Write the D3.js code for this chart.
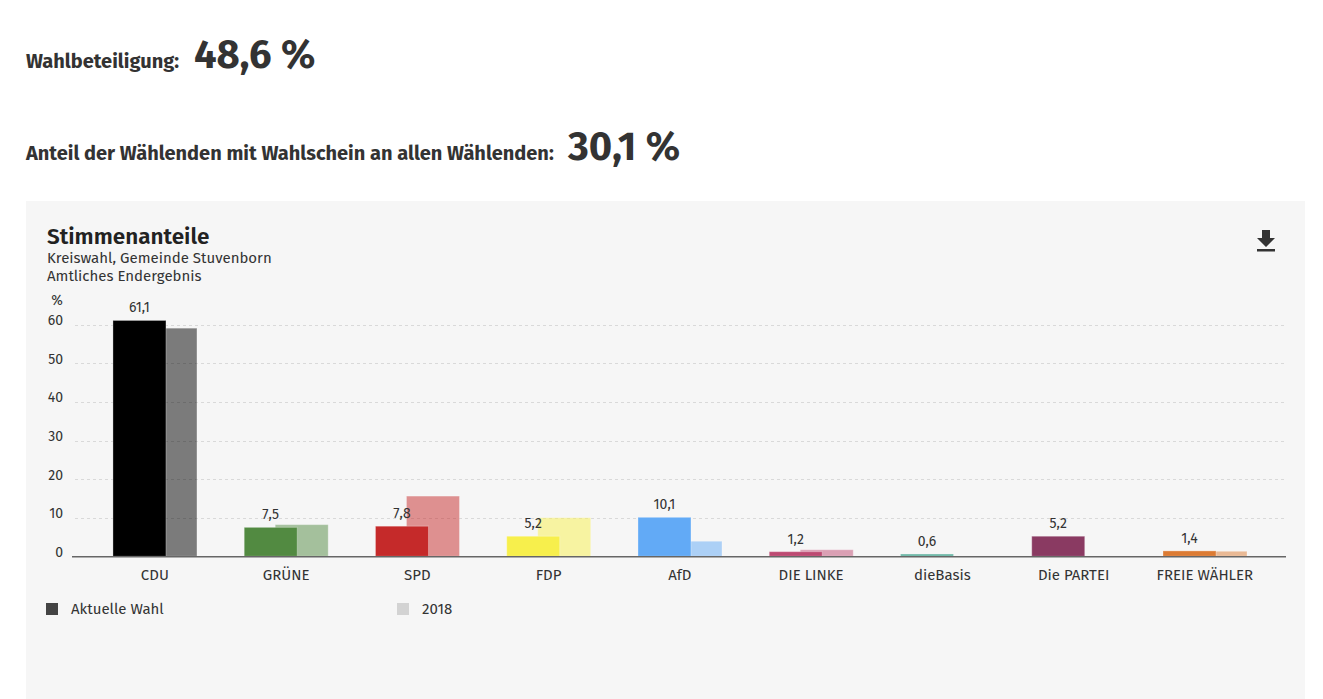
<!DOCTYPE html>
<html>
<head>
<meta charset="utf-8">
<script src="https://cdn.jsdelivr.net/npm/d3@7"></script>
<style>
  html, body { margin: 0; padding: 0; background: #fff; }
  svg { display: block; }
  text { font-family: "Fira Sans", Lato, "Open Sans", sans-serif; }
</style>
</head>
<body>
<svg id="chart" width="1323" height="699"></svg>
<script>
// ---- data ----
const parties = ["CDU", "GRÜNE", "SPD", "FDP", "AfD", "DIE LINKE", "dieBasis", "Die PARTEI", "FREIE WÄHLER"];
const current = [61.1, 7.5, 7.8, 5.2, 10.1, 1.2, 0.6, 5.2, 1.4];
const previous = [59.1, 8.2, 15.6, 10.0, 3.9, 1.7, null, null, 1.3];
const partyColors = ["#000000", "#528a41", "#c52a2a", "#f7ef4c", "#62aaf6", "#bd4a72", "#6cb7a6", "#8a3a62", "#dc7b33"];
const yTicks = [0, 10, 20, 30, 40, 50, 60];
const legendLabels = ["Aktuelle Wahl", "2018"];
const turnout = "48,6 %";
const absenteeShare = "30,1 %";

const fmt = v => d3.format(".1f")(v).replace(".", ",");

const svg = d3.select("#chart");

// ---- header ----
const hdr = svg.append("g");
hdr.append("text").attr("x", 26).attr("y", 68)
  .attr("font-size", 20).attr("font-weight", 700).attr("fill", "#333")
  .text("Wahlbeteiligung:");
hdr.append("text").attr("x", 194).attr("y", 68)
  .attr("font-size", 40).attr("font-weight", 700).attr("fill", "#333")
  .text(turnout);
hdr.append("text").attr("x", 26).attr("y", 160)
  .attr("font-size", 20).attr("font-weight", 700).attr("fill", "#333")
  .text("Anteil der Wählenden mit Wahlschein an allen Wählenden:");
hdr.append("text").attr("x", 568).attr("y", 160)
  .attr("font-size", 40).attr("font-weight", 700).attr("fill", "#333")
  .text(absenteeShare);

// ---- panel ----
svg.append("rect").attr("x", 26).attr("y", 201).attr("width", 1279).attr("height", 498).attr("fill", "#f6f6f6");

svg.append("text").attr("x", 47).attr("y", 244)
  .attr("font-size", 22.5).attr("font-weight", 600).attr("fill", "#222")
  .text("Stimmenanteile");
svg.append("text").attr("x", 47).attr("y", 263)
  .attr("font-size", 15).attr("fill", "#333")
  .text("Kreiswahl, Gemeinde Stuvenborn");
svg.append("text").attr("x", 47).attr("y", 281)
  .attr("font-size", 15).attr("fill", "#333")
  .text("Amtliches Endergebnis");

// download icon
const icon = svg.append("g").attr("transform", "translate(1266,241)").attr("fill", "#333");
icon.append("path").attr("d", "M-4,-11 L4,-11 L4,-3 L9,-3 L0,6 L-9,-3 L-4,-3 Z");
icon.append("rect").attr("x", -9).attr("y", 8).attr("width", 18).attr("height", 2.5);

// ---- scales ----
const y = d3.scaleLinear().domain([0, 60]).range([556.3, 324.7]);
const x = d3.scaleBand().domain(parties).range([89.2, 1270.5]).paddingInner(0.362).paddingOuter(0.181);
const barW = 53;
const xs = d3.scalePoint().domain(["current", "previous"]).range([0, 31]);

// gridlines
svg.append("g").selectAll("line").data(yTicks.filter(t => t > 0)).join("line")
  .attr("x1", 75).attr("x2", 1285)
  .attr("y1", d => Math.round(y(d)) + 0.5).attr("y2", d => Math.round(y(d)) + 0.5)
  .attr("stroke", "#d9d9d9").attr("stroke-dasharray", "3,3").attr("stroke-width", 1);

// y axis labels
const yAxis = svg.append("g").attr("transform", "translate(63,0)")
  .call(d3.axisLeft(y).tickValues(yTicks).tickSize(0).tickPadding(0));
yAxis.select(".domain").remove();
yAxis.selectAll("text").attr("font-size", 14).attr("fill", "#333").attr("font-family", null).attr("dy", "0em");
svg.append("text").attr("x", 57).attr("y", 305).attr("text-anchor", "middle")
  .attr("font-size", 14).attr("fill", "#333").text("%");

// bars
const rows = parties.map((p, i) => ({ p, cur: current[i], prev: previous[i], color: partyColors[i] }));

svg.append("g").selectAll("rect").data(rows.filter(d => d.prev != null)).join("rect")
  .attr("x", d => x(d.p) + xs("previous"))
  .attr("y", d => y(d.prev))
  .attr("width", barW)
  .attr("height", d => y(0) - y(d.prev))
  .attr("fill", d => d.color).attr("fill-opacity", 0.5)
  .attr("stroke", "#ffffff").attr("stroke-opacity", 0.3).attr("stroke-width", 1);

svg.append("g").selectAll("rect").data(rows).join("rect")
  .attr("x", d => x(d.p) + xs("current"))
  .attr("y", d => y(d.cur))
  .attr("width", barW)
  .attr("height", d => y(0) - y(d.cur))
  .attr("fill", d => d.color)
  .attr("stroke", "#ffffff").attr("stroke-opacity", 0.3).attr("stroke-width", 1);

// value labels
svg.append("g").selectAll("text").data(rows).join("text")
  .attr("x", d => x(d.p) + xs("current") + barW / 2)
  .attr("y", d => y(d.cur) - 8)
  .attr("text-anchor", "middle").attr("font-size", 14).attr("fill", "#333")
  .text(d => fmt(d.cur));

// x axis
const xAxis = svg.append("g").attr("transform", `translate(0,${y(0)})`)
  .call(d3.axisBottom(x).tickSize(0).tickPadding(13));
xAxis.select(".domain").remove();
xAxis.selectAll("text").attr("font-size", 15).attr("fill", "#333").attr("font-family", null);
svg.append("line").attr("x1", 72).attr("x2", 1286).attr("y1", y(0) + 0.5).attr("y2", y(0) + 0.5)
  .attr("stroke", "#666").attr("stroke-width", 1.5);

// legend
const legendColors = ["#444444", "#d3d3d3"];
const lg = svg.append("g").selectAll("g").data(legendLabels).join("g")
  .attr("transform", (d, i) => `translate(${[46, 397][i]},603)`);
lg.append("rect").attr("width", 12).attr("height", 12).attr("fill", (d, i) => legendColors[i]);
lg.append("text").attr("x", 25).attr("y", 11).attr("font-size", 15).attr("fill", "#333").text(d => d);
</script>
</body>
</html>
